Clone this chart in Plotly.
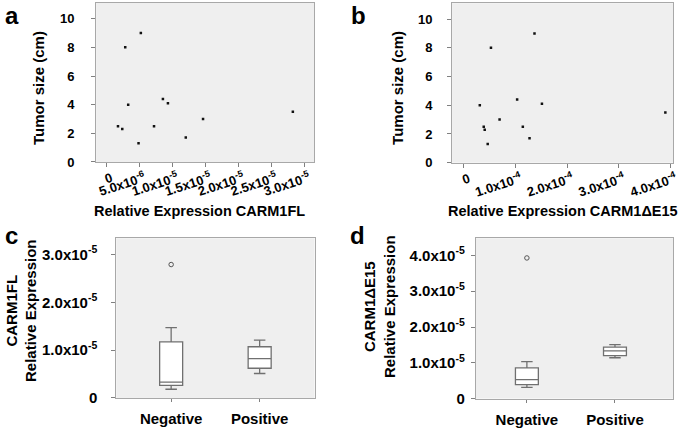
import plotly.graph_objects as go

# ---------------- data ----------------
tumor_size = [9.0, 8.0, 4.0, 2.5, 2.3, 1.3, 2.5, 4.4, 4.1, 1.7, 3.0, 3.5]
carm1fl_expr = [5.23e-6, 2.86e-6, 3.31e-6, 1.76e-6, 2.41e-6, 4.88e-6,
                7.23e-6, 8.58e-6, 9.34e-6, 1.205e-5, 1.467e-5, 2.83e-5]

tumor_size_b = [9.0, 8.0, 4.0, 2.5, 2.3, 1.3, 3.0, 4.4, 2.5, 1.7, 4.1, 3.5]
carm1de15_expr = [1.366e-4, 0.523e-4, 0.307e-4, 0.383e-4, 0.402e-4, 0.46e-4,
                  0.69e-4, 1.03e-4, 1.14e-4, 1.27e-4, 1.51e-4, 3.90e-4]

groups = ["Negative", "Positive"]
# box stats panel c (CARM1FL)
c_lower = [0.18e-5, 0.51e-5]
c_q1 = [0.26e-5, 0.62e-5]
c_median = [0.33e-5, 0.82e-5]
c_q3 = [1.17e-5, 1.07e-5]
c_upper = [1.47e-5, 1.21e-5]
c_outlier_group = ["Negative"]
c_outlier_val = [2.79e-5]
# box stats panel d (CARM1dE15)
d_lower = [0.31e-5, 1.14e-5]
d_q1 = [0.39e-5, 1.20e-5]
d_median = [0.53e-5, 1.33e-5]
d_q3 = [0.86e-5, 1.44e-5]
d_upper = [1.03e-5, 1.51e-5]
d_outlier_group = ["Negative"]
d_outlier_val = [3.93e-5]

a_tickvals = [0, 5e-6, 1e-5, 1.5e-5, 2e-5, 2.5e-5, 3e-5]
a_ticktext = ["0", "5.0x10<sup>-6</sup>", "1.0x10<sup>-5</sup>", "1.5x10<sup>-5</sup>",
              "2.0x10<sup>-5</sup>", "2.5x10<sup>-5</sup>", "3.0x10<sup>-5</sup>"]
b_tickvals = [0, 1e-4, 2e-4, 3e-4, 4e-4]
b_ticktext = ["0", "1.0x10<sup>-4</sup>", "2.0x10<sup>-4</sup>", "3.0x10<sup>-4</sup>",
              "4.0x10<sup>-4</sup>"]
size_tickvals = [0, 2, 4, 6, 8, 10]
c_tickvals = [0, 1e-5, 2e-5, 3e-5]
c_ticktext = ["0", "1.0x10<sup>-5</sup>", "2.0x10<sup>-5</sup>", "3.0x10<sup>-5</sup>"]
d_tickvals = [0, 1e-5, 2e-5, 3e-5, 4e-5]
d_ticktext = ["0", "1.0x10<sup>-5</sup>", "2.0x10<sup>-5</sup>", "3.0x10<sup>-5</sup>",
              "4.0x10<sup>-5</sup>"]

FONT = "Liberation Sans, Arial, sans-serif"
BG = "#efefef"
FRAME = "#a8a8a8"
W, H = 692, 438

fig = go.Figure()

fig.add_trace(go.Scatter(x=carm1fl_expr, y=tumor_size, mode="markers",
                         marker=dict(size=2.5, color="#111111", symbol="square"),
                         xaxis="x", yaxis="y", showlegend=False))
fig.add_trace(go.Scatter(x=carm1de15_expr, y=tumor_size_b, mode="markers",
                         marker=dict(size=2.5, color="#111111", symbol="square"),
                         xaxis="x2", yaxis="y2", showlegend=False))

box_style = dict(fillcolor="white", line=dict(color="#707070", width=1.3),
                 whiskerwidth=0.5, width=0.26, showlegend=False, boxpoints=False)
out_marker = dict(size=4.5, color="#555555", symbol="circle-open", line=dict(width=1))
fig.add_trace(go.Box(x=groups, q1=c_q1, median=c_median, q3=c_q3,
                     lowerfence=c_lower, upperfence=c_upper,
                     xaxis="x3", yaxis="y3", **box_style))
fig.add_trace(go.Scatter(x=c_outlier_group, y=c_outlier_val, mode="markers",
                         marker=out_marker, xaxis="x3", yaxis="y3", showlegend=False))
fig.add_trace(go.Box(x=groups, q1=d_q1, median=d_median, q3=d_q3,
                     lowerfence=d_lower, upperfence=d_upper,
                     xaxis="x4", yaxis="y4", **box_style))
fig.add_trace(go.Scatter(x=d_outlier_group, y=d_outlier_val, mode="markers",
                         marker=out_marker, xaxis="x4", yaxis="y4", showlegend=False))


def tf(size):
    return dict(family=FONT, size=size, color="black", weight="bold")


def ax(**kw):
    base = dict(showgrid=False, zeroline=False, showline=True, mirror=True,
                linecolor=FRAME, linewidth=1, ticks="outside", ticklen=4,
                tickcolor="#808080", tickfont=tf(12))
    base.update(kw)
    return base


fig.update_layout(
    width=W, height=H,
    margin=dict(l=0, r=0, t=0, b=0),
    paper_bgcolor="white", plot_bgcolor=BG,
    font=dict(family=FONT, color="black"),
    xaxis=ax(domain=[0.1402, 0.4581], anchor="y", range=[-1.55e-6, 3.155e-5],
             tickvals=a_tickvals, ticktext=a_ticktext, tickangle=-18, tickfont=tf(13),
             ticklabelstandoff=-1, ticklabelshift=5),
    yaxis=ax(domain=[0.6233, 0.9932], anchor="x", range=[0, 11.1],
             tickvals=size_tickvals, ticklabelstandoff=14, tickfont=tf(13)),
    xaxis2=ax(domain=[0.6590, 0.9812], anchor="y2", range=[-0.23e-4, 4.05e-4],
              tickvals=b_tickvals, ticktext=b_ticktext, tickangle=-18, tickfont=tf(13),
              ticklabelstandoff=-1, ticklabelshift=5),
    yaxis2=ax(domain=[0.6217, 0.9925], anchor="x2", range=[0, 11.1],
              tickvals=size_tickvals, ticklabelstandoff=12, tickfont=tf(13)),
    xaxis3=ax(domain=[0.1695, 0.4585], anchor="y3", range=[-0.62, 1.62],
              categoryorder="array", categoryarray=groups, ticklen=3,
              tickfont=tf(15), ticklabelstandoff=4),
    yaxis3=ax(domain=[0.0747, 0.4459], anchor="x3", range=[0, 3.34e-5],
              tickvals=c_tickvals, ticktext=c_ticktext, ticklabelstandoff=11,
              tickfont=tf(15)),
    xaxis4=ax(domain=[0.6936, 0.9812], anchor="y4", range=[-0.58, 1.66],
              categoryorder="array", categoryarray=groups, ticklen=3,
              tickfont=tf(15), ticklabelstandoff=4),
    yaxis4=ax(domain=[0.0731, 0.4459], anchor="x4", range=[0, 4.48e-5],
              tickvals=d_tickvals, ticktext=d_ticktext, ticklabelstandoff=3,
              tickfont=tf(15)),
)

# axis titles as positioned annotations (pixel centres)
titles = [
    ("Relative Expression CARM1FL", 201, 215, 0, 14.5),
    ("Relative Expression CARM1ΔE15", 568, 215, 0, 14.5),
    ("Tumor size (cm)", 39, 90, -90, 15),
    ("Tumor size (cm)", 401, 90, -90, 15),
    ("CARM1FL<br>Relative Expression", 21, 316, -90, 15),
    ("CARM1ΔE15<br>Relative Expression", 383, 312, -90, 15),
]
for text, px, py, ang, fs in titles:
    fig.add_annotation(text=text, x=px / W, y=1 - py / H, xref="paper", yref="paper",
                       xanchor="center", yanchor="middle", textangle=ang,
                       showarrow=False, font=tf(fs))

for letter, px, py in [("a", 3, 0), ("b", 352, 0), ("c", 3, 224), ("d", 351, 224)]:
    fig.add_annotation(text=letter, x=px / W, y=1 - py / H, xref="paper", yref="paper",
                       xanchor="left", yanchor="top", showarrow=False, font=tf(24))

fig.write_html("out.html", config={"displayModeBar": False},
               post_script="document.body.style.margin='0';document.body.style.padding='0';")
